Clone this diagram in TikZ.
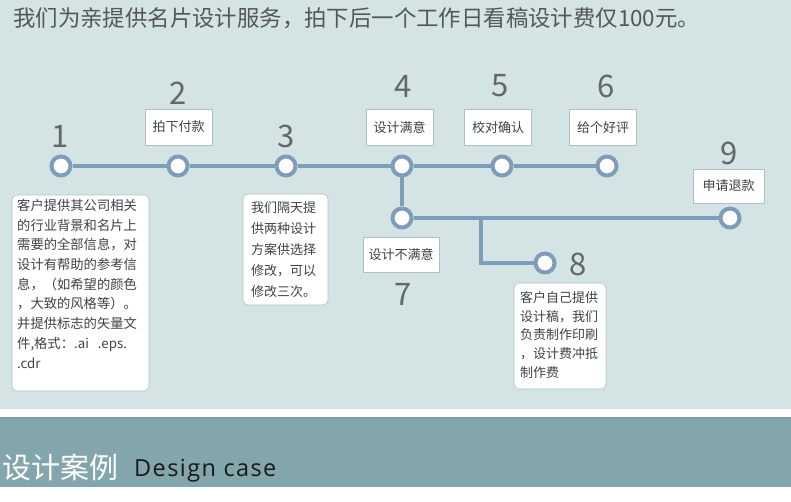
\documentclass[tikz,border=0pt]{standalone}
\usepackage{fontspec}
\setmainfont{Noto Sans CJK SC}
\newfontfamily\latinfont[LetterSpace=6]{Open Sans}
\usepackage{tikz}

\definecolor{bgc}{HTML}{D4E4E5}
\definecolor{bandc}{HTML}{82A6AC}
\definecolor{bandedge}{HTML}{789CA2}
\definecolor{linec}{HTML}{7F9DBB}
\definecolor{boxc}{HTML}{B4BEC2}
\definecolor{numc}{HTML}{626769}
\definecolor{txtc}{HTML}{3F4244}

\begin{document}
\begin{tikzpicture}[x=1pt, y=-1pt,
    dot/.style={circle, draw=linec, fill=white, line width=4pt, minimum size=19pt, inner sep=0pt},
    link/.style={draw=linec, line width=4.5pt},
    num/.style={text=numc, inner sep=0pt, font=\fontsize{31}{31}\selectfont},
    tag/.style={draw=boxc, fill=white, line width=0.6pt, minimum width=67pt, minimum height=36pt,
                inner sep=0pt, text=txtc, font=\fontsize{13}{13}\selectfont},
    notebox/.style={draw=boxc, fill=white, line width=0.6pt, rounded corners=5pt, inner sep=0pt},
    notetext/.style={anchor=north west, align=left, inner sep=0pt, text=txtc}]

            % Background and bottom band
            \useasboundingbox (0,0) rectangle (791,502);
            \fill[white] (0,0) rectangle (791,502);
            \fill[bgc] (0,0) rectangle (791,409);
            \fill[bandc] (0,417) rectangle (791,487);
            \fill[bandedge] (0,417) rectangle (791,419);

            % Title
            \node[anchor=base west, inner sep=0pt, text=numc!85!black, font=\fontsize{22.4}{22.4}\selectfont]
                (title) at (13,27) {我们为亲提供名片设计服务，拍下后一个工作日看稿设计费仅100元。};

            % Define steps
            \node[dot] (n1) at (61,166) {};
            \node[dot] (n2) at (178,166) {};
            \node[dot] (n3) at (286,166) {};
            \node[dot] (n4) at (402,166) {};
            \node[dot] (n5) at (502,166) {};
            \node[dot] (n6) at (607,166) {};
            \node[dot] (n7) at (402,218) {};
            \node[dot] (n8) at (545,263) {};
            \node[dot] (n9) at (730,218) {};
            \coordinate (split) at (481,218);

            % Draw connections
            \draw[link] (n1) -- (n2);
            \draw[link] (n2) -- (n3);
            \draw[link] (n3) -- (n4);
            \draw[link] (n4) -- (n5);
            \draw[link] (n5) -- (n6);
            \draw[link] (n4) -- (n7);
            \draw[link] (n7) -- (n9);
            \draw[link] (split) |- (n8);

            % Step numbers
            \node[num] (k1) at (60,136) {1};
            \node[num] (k2) at (178,93) {2};
            \node[num] (k3) at (286,136) {3};
            \node[num] (k4) at (403,86) {4};
            \node[num] (k5) at (500,86) {5};
            \node[num] (k6) at (606,86) {6};
            \node[num] (k7) at (403,294) {7};
            \node[num] (k8) at (578,264) {8};
            \node[num] (k9) at (729,153) {9};

            % Step labels
            \node[tag] (t2) at (178.5,127) {拍下付款};
            \node[tag] (t4) at (399.5,127.5) {设计满意};
            \node[tag] (t5) at (498,127.5) {校对确认};
            \node[tag] (t6) at (603,127.5) {给个好评};
            \node[tag, minimum width=71pt, minimum height=34pt] (t9) at (728.5,186) {申请退款};
            \node[tag, minimum width=76pt, minimum height=35pt] (t7) at (401,254.5) {设计不满意};

            % Notes under steps 1, 3 and 8
            \node[notebox, minimum width=137pt, minimum height=196pt] (b1) at (80.5,293) {};
            \node[notetext, font=\fontsize{13.3}{19.7}\selectfont] (b1text) at (17,199)
                {客户提供其公司相关\\的行业背景和名片上\\需要的全部信息，对\\设计有帮助的参考信\\息，（如希望的颜色\\，大致的风格等）。\\并提供标志的矢量文\\件,格式：.ai\ \ \ .eps.\\.cdr};
            \node[notebox, minimum width=85pt, minimum height=111pt] (b3) at (285.5,249.5) {};
            \node[notetext, font=\fontsize{13}{21.2}\selectfont] (b3text) at (251,201)
                {我们隔天提\\供两种设计\\方案供选择\\修改，可以\\修改三次。};
            \node[notebox, minimum width=92pt, minimum height=106pt] (b8) at (560,336) {};
            \node[notetext, font=\fontsize{13}{18.8}\selectfont] (b8text) at (520,291)
                {客户自己提供\\设计稿，我们\\负责制作印刷\\，设计费冲抵\\制作费};

            % Section heading
            \node[anchor=base west, inner sep=0pt, text=white, font=\fontsize{29}{29}\selectfont]
                (case) at (2,478) {设计案例};
            \node[anchor=base west, inner sep=0pt, text=black!90, font=\latinfont\fontsize{23.5}{23.5}\selectfont]
                (casen) at (134,476) {Design case};
        \end{tikzpicture}
\end{document}
